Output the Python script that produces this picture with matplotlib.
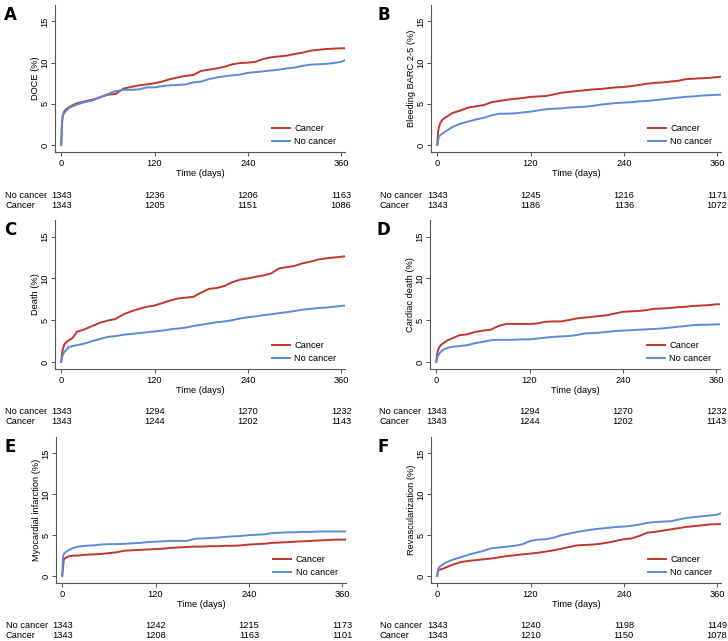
import matplotlib
matplotlib.use('Agg')
from matplotlib import pyplot as plt

plt.rcParams['font.family'] = ['Liberation Sans', 'DejaVu Sans']

# common time grid (days)
days = [0, 1, 2, 4, 7, 10, 15, 20, 30, 40, 50, 60, 70, 80, 90, 100, 110, 120,
        130, 140, 150, 160, 170, 180, 190, 200, 210, 220, 230, 240, 250, 260,
        270, 280, 290, 300, 310, 320, 330, 340, 350, 360, 365]

# cumulative incidence (%)
doce_cancer = [0, 2.5, 3.6, 4.1, 4.4, 4.6, 4.85, 5.05, 5.3, 5.5, 5.8, 6.1, 6.2, 6.85, 7.05, 7.25, 7.35, 7.5,
               7.7, 8.0, 8.2, 8.4, 8.5, 9.0, 9.15, 9.3, 9.5, 9.8, 9.95, 10.0, 10.1, 10.45, 10.65, 10.75,
               10.85, 11.05, 11.2, 11.45, 11.55, 11.65, 11.7, 11.75, 11.75]
doce_nocancer = [0, 3.0, 3.5, 3.9, 4.2, 4.5, 4.7, 4.9, 5.2, 5.4, 5.8, 6.2, 6.55, 6.7, 6.7, 6.75, 7.0, 7.0,
                 7.15, 7.25, 7.3, 7.35, 7.6, 7.7, 8.0, 8.2, 8.35, 8.45, 8.55, 8.75, 8.85, 8.95, 9.05, 9.15,
                 9.3, 9.4, 9.6, 9.75, 9.8, 9.85, 9.95, 10.1, 10.3]
bleed_cancer = [0, 1.5, 2.1, 2.7, 3.1, 3.3, 3.6, 3.9, 4.2, 4.55, 4.7, 4.85, 5.2, 5.35, 5.5, 5.6, 5.7, 5.85,
                5.9, 5.95, 6.15, 6.35, 6.45, 6.55, 6.65, 6.75, 6.8, 6.9, 7.0, 7.05, 7.15, 7.3, 7.45, 7.55,
                7.6, 7.7, 7.8, 8.0, 8.05, 8.1, 8.15, 8.25, 8.3]
bleed_nocancer = [0, 0.5, 1.0, 1.2, 1.4, 1.6, 1.9, 2.2, 2.6, 2.85, 3.1, 3.3, 3.6, 3.8, 3.8, 3.85, 3.95, 4.05,
                  4.2, 4.35, 4.4, 4.45, 4.55, 4.6, 4.65, 4.75, 4.9, 5.0, 5.1, 5.15, 5.2, 5.3, 5.35, 5.45,
                  5.55, 5.65, 5.75, 5.85, 5.9, 6.0, 6.05, 6.1, 6.1]
death_cancer = [0, 1.0, 1.5, 2.1, 2.4, 2.6, 2.9, 3.6, 3.9, 4.3, 4.7, 4.95, 5.15, 5.7, 6.05, 6.35, 6.6, 6.75,
                7.05, 7.35, 7.6, 7.7, 7.8, 8.3, 8.75, 8.85, 9.1, 9.55, 9.85, 10.0, 10.2, 10.35, 10.6, 11.2,
                11.35, 11.5, 11.8, 12.0, 12.25, 12.4, 12.5, 12.6, 12.65]
death_nocancer = [0, 0.5, 0.8, 1.2, 1.5, 1.8, 1.9, 2.0, 2.2, 2.5, 2.75, 3.0, 3.1, 3.25, 3.35, 3.45, 3.55, 3.65,
                  3.75, 3.9, 4.0, 4.1, 4.3, 4.45, 4.6, 4.75, 4.85, 5.0, 5.2, 5.35, 5.45, 5.6, 5.7, 5.85,
                  5.95, 6.1, 6.25, 6.35, 6.45, 6.5, 6.6, 6.7, 6.75]
cdeath_cancer = [0, 0.8, 1.3, 1.8, 2.1, 2.3, 2.6, 2.8, 3.2, 3.3, 3.6, 3.75, 3.85, 4.3, 4.55, 4.55, 4.55, 4.55,
                 4.6, 4.8, 4.85, 4.85, 5.0, 5.2, 5.3, 5.4, 5.5, 5.6, 5.8, 6.0, 6.05, 6.1, 6.2, 6.35,
                 6.4, 6.45, 6.55, 6.6, 6.7, 6.75, 6.8, 6.9, 6.9]
cdeath_nocancer = [0, 0.4, 0.7, 1.0, 1.3, 1.5, 1.7, 1.8, 1.9, 2.0, 2.25, 2.4, 2.6, 2.65, 2.65, 2.65, 2.7, 2.7,
                   2.8, 2.9, 3.0, 3.05, 3.1, 3.2, 3.4, 3.45, 3.5, 3.6, 3.7, 3.75, 3.8, 3.85, 3.9, 3.95,
                   4.0, 4.1, 4.2, 4.3, 4.4, 4.45, 4.45, 4.5, 4.5]
mi_cancer = [0, 1.0, 2.0, 2.2, 2.35, 2.45, 2.5, 2.5, 2.6, 2.65, 2.7, 2.8, 2.9, 3.1, 3.15, 3.2, 3.25, 3.3,
             3.35, 3.45, 3.5, 3.55, 3.6, 3.6, 3.65, 3.65, 3.7, 3.7, 3.75, 3.85, 3.9, 3.95, 4.05, 4.1,
             4.15, 4.2, 4.25, 4.3, 4.35, 4.4, 4.45, 4.45, 4.45]
mi_nocancer = [0, 2.3, 2.7, 2.9, 3.1, 3.25, 3.45, 3.6, 3.7, 3.75, 3.85, 3.9, 3.9, 3.95, 4.0, 4.05, 4.15, 4.2,
               4.25, 4.3, 4.3, 4.3, 4.55, 4.6, 4.65, 4.7, 4.8, 4.85, 4.9, 5.0, 5.05, 5.1, 5.25, 5.3,
               5.35, 5.35, 5.4, 5.4, 5.45, 5.45, 5.45, 5.45, 5.45]
revasc_cancer = [0, 0.6, 0.7, 0.8, 0.9, 1.0, 1.2, 1.4, 1.7, 1.85, 1.95, 2.05, 2.15, 2.3, 2.45, 2.55, 2.65, 2.75,
                 2.85, 3.0, 3.15, 3.35, 3.55, 3.75, 3.8, 3.85, 3.95, 4.1, 4.3, 4.5, 4.6, 4.9, 5.3, 5.4,
                 5.55, 5.7, 5.85, 6.0, 6.1, 6.2, 6.3, 6.35, 6.35]
revasc_nocancer = [0, 0.7, 1.0, 1.2, 1.4, 1.6, 1.8, 2.0, 2.3, 2.6, 2.85, 3.1, 3.4, 3.5, 3.6, 3.7, 3.9, 4.3,
                   4.45, 4.5, 4.7, 5.0, 5.2, 5.4, 5.55, 5.7, 5.8, 5.9, 6.0, 6.05, 6.15, 6.3, 6.5, 6.6,
                   6.65, 6.7, 6.9, 7.1, 7.2, 7.3, 7.4, 7.5, 7.7]

# numbers at risk at 0, 120, 240, 360 days
risk_days = [0, 120, 240, 360]
risk_doce = ([1343, 1236, 1206, 1163], [1343, 1205, 1151, 1086])
risk_bleed = ([1343, 1245, 1216, 1171], [1343, 1186, 1136, 1072])
risk_death = ([1343, 1294, 1270, 1232], [1343, 1244, 1202, 1143])
risk_cdeath = ([1343, 1294, 1270, 1232], [1343, 1244, 1202, 1143])
risk_mi = ([1343, 1242, 1215, 1173], [1343, 1208, 1163, 1101])
risk_revasc = ([1343, 1240, 1198, 1149], [1343, 1210, 1150, 1078])

RED = '#c4352c'
BLUE = '#5b8bd8'
W, H = 728, 641

panels = [
    ('A', 'DOCE (%)', doce_cancer, doce_nocancer, risk_doce, (55, 5, 345, 152)),
    ('B', 'Bleeding BARC 2-5 (%)', bleed_cancer, bleed_nocancer, risk_bleed, (431, 5, 721, 152)),
    ('C', 'Death (%)', death_cancer, death_nocancer, risk_death, (55, 220, 345, 369)),
    ('D', 'Cardiac death (%)', cdeath_cancer, cdeath_nocancer, risk_cdeath, (430, 220, 720, 369)),
    ('E', 'Myocardial infarction (%)', mi_cancer, mi_nocancer, risk_mi, (56, 437, 346, 583)),
    ('F', 'Revascularization (%)', revasc_cancer, revasc_nocancer, risk_revasc, (431, 437, 721, 583)),
]

fig = plt.figure(figsize=(W / 100, H / 100), dpi=100)
fs = 6.7

for letter, ylab, y_c, y_n, risk, (l, t, r, b) in panels:
    ax = fig.add_axes([l / W, 1 - b / H, (r - l) / W, (b - t) / H])
    ax.plot(days, y_c, color=RED, lw=1.4, label='Cancer')
    ax.plot(days, y_n, color=BLUE, lw=1.4, label='No cancer')
    ax.set_xlim(-8, 365)
    ax.set_ylim(-0.85, 17)
    ax.set_xticks([0, 120, 240, 360])
    ax.set_yticks([0, 5, 10, 15])
    ax.tick_params(labelsize=fs, length=3, width=0.7, color='#555555', pad=2)
    ax.tick_params(axis='y', pad=1)
    for lbl in ax.get_yticklabels():
        lbl.set_rotation(90)
        lbl.set_va('center')
    for s in ['top', 'right']:
        ax.spines[s].set_visible(False)
    for s in ['left', 'bottom']:
        ax.spines[s].set_color('#555555')
        ax.spines[s].set_linewidth(0.8)
    ax.set_xlabel('Time (days)', fontsize=fs, labelpad=1)
    ax.set_ylabel(ylab, fontsize=fs, labelpad=0)
    ax.legend(loc='lower right', bbox_to_anchor=(1.0, -0.015), frameon=False, fontsize=fs,
              handlelength=1.9, handletextpad=0.5, labelspacing=0.4)

    # number at risk table
    x0 = l - 50 if l < 300 else l - 51
    for row, (name, vals) in enumerate([('No cancer', risk[0]), ('Cancer', risk[1])]):
        off = 43 + row * 10
        fig.text(x0 / W, 1 - (b + off) / H, name, fontsize=fs, va='center', ha='left')
        for d, v in zip(risk_days, vals):
            ax.annotate(str(v), xy=(d, 0), xycoords=('data', 'axes fraction'),
                        xytext=(0, -off), textcoords='offset pixels',
                        ha='center', va='center', fontsize=fs, annotation_clip=False)

    fig.text((l - 51 if l < 300 else l - 54) / W, 1 - (t + 10) / H, letter,
             fontsize=12, fontweight='bold', family=['DejaVu Sans'], va='center')

fig.savefig('out.png', dpi=100)
